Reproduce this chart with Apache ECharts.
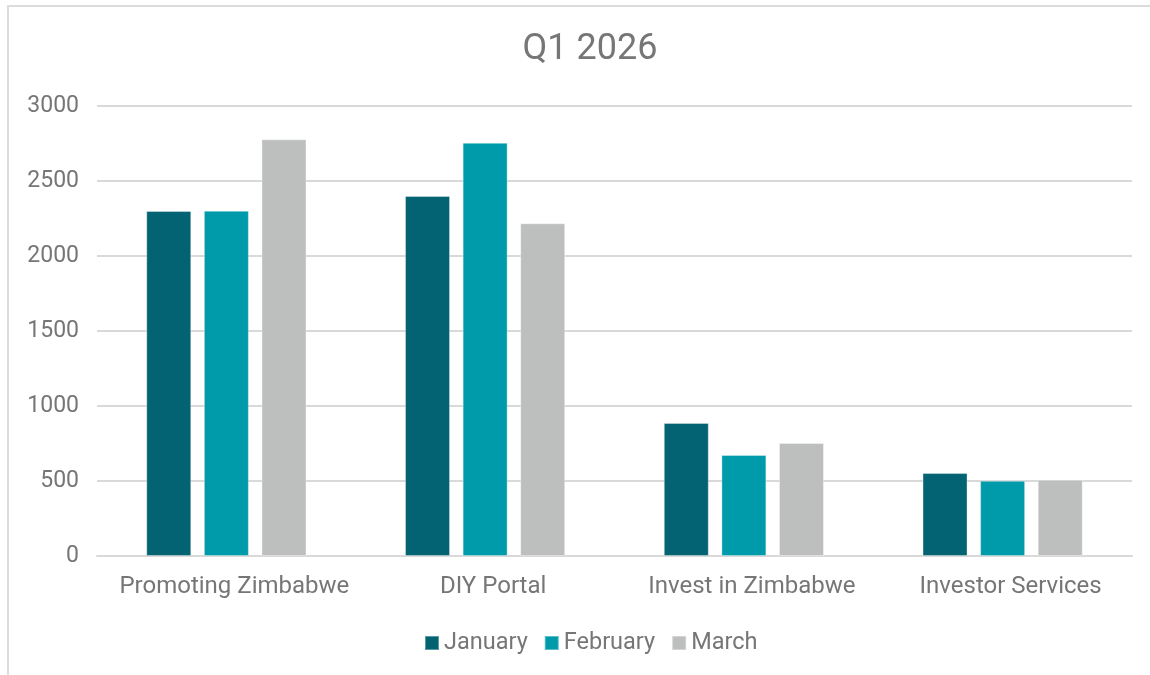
<!DOCTYPE html>
<html>
<head>
<meta charset="utf-8">
<script src="https://cdn.jsdelivr.net/npm/echarts@6/dist/echarts.min.js"></script>
<style>
  html, body { margin: 0; padding: 0; background: #fff; }
  #chart { width: 1150px; height: 675px; }
</style>
</head>
<body>
<div id="chart"></div>
<script>
const categories = ['Promoting Zimbabwe', 'DIY Portal', 'Invest in Zimbabwe', 'Investor Services']
const january = [2300, 2400, 887, 553]
const february = [2302, 2755, 673, 502]
const march = [2778, 2218, 753, 509]

const textColor = '#767676'
const font = 'Roboto, sans-serif'

const chart = echarts.init(document.getElementById('chart'))

const barSeries = (name, data, color) => ({
  name: name,
  type: 'bar',
  data: data,
  barWidth: 45,
  barGap: '28%',
  itemStyle: { color: color, borderColor: 'rgba(255,255,255,0.35)', borderWidth: 1 }
})

chart.setOption({
  backgroundColor: '#fff',
  animation: false,
  graphic: [{
    type: 'rect',
    shape: { x: 8, y: 6, width: 1160, height: 700 },
    style: { fill: 'none', stroke: '#dcdcdc', lineWidth: 2 },
    silent: true
  }],
  title: {
    text: 'Q1 2026',
    left: 585,
    textAlign: 'center',
    top: 27,
    textStyle: { fontSize: 36, fontWeight: 'normal', color: textColor, fontFamily: font }
  },
  legend: {
    data: ['January', 'February', 'March'],
    left: 419,
    top: 626,
    icon: 'rect',
    itemWidth: 14,
    itemHeight: 14,
    itemGap: 16,
    textStyle: { fontSize: 23.5, color: textColor, fontFamily: font }
  },
  grid: { left: 97, right: 18, top: 106, bottom: 119, containLabel: false },
  xAxis: {
    type: 'category',
    data: categories,
    axisLine: { lineStyle: { color: '#d9d9d9', width: 2 } },
    axisTick: { show: false },
    axisLabel: { interval: 0, fontSize: 24, color: textColor, fontFamily: font, margin: 19, padding: [0, 0, 0, 16] }
  },
  yAxis: {
    type: 'value',
    min: 0,
    max: 3000,
    interval: 500,
    axisLine: { show: false },
    axisTick: { show: false },
    axisLabel: { formatter: v => String(v), fontSize: 23, color: textColor, fontFamily: font, margin: 18 },
    splitLine: { lineStyle: { color: '#d9d9d9', width: 2 } }
  },
  series: [
    barSeries('January', january, '#036372'),
    barSeries('February', february, '#009BAB'),
    barSeries('March', march, '#BDBFBE')
  ]
})
</script>
</body>
</html>
